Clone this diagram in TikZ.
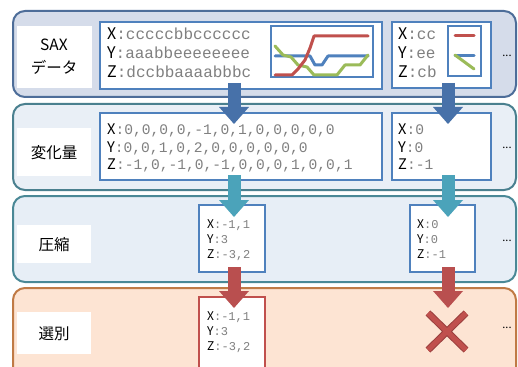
\documentclass[tikz,border=0pt]{standalone}
\usepackage{fontspec}
\setmainfont{Noto Sans CJK JP}
\setmonofont{Liberation Mono}
\usetikzlibrary{arrows.meta}
\definecolor{bandAline}{HTML}{4D6D99}
\definecolor{bandAfill}{HTML}{D5DCEA}
\definecolor{bandBline}{HTML}{4A808F}
\definecolor{bandBfill}{HTML}{E9EFF6}
\definecolor{bandCline}{HTML}{4A8896}
\definecolor{bandCfill}{HTML}{E7EEF6}
\definecolor{bandDline}{HTML}{C07A45}
\definecolor{bandDfill}{HTML}{FDE4D3}
\definecolor{boxblue}{HTML}{4F81BD}
\definecolor{boxred}{HTML}{C0504D}
\definecolor{arrA}{HTML}{4771A9}
\definecolor{arrB}{HTML}{4BA3BA}
\definecolor{arrC}{HTML}{B94F4F}
\definecolor{chred}{HTML}{C0504D}
\definecolor{chblue}{HTML}{4F81BD}
\definecolor{chgreen}{HTML}{9BBB59}
\definecolor{valgray}{HTML}{808080}
\newcommand\monoval[1]{{\ttfamily\color{valgray}#1}}
\begin{document}
\begin{tikzpicture}[x=1pt,y=-1pt,
  band/.style={rounded corners=12pt, line width=2pt},
  labelbox/.style={fill=white, draw=none, inner sep=0pt},
  databox/.style={draw=boxblue, fill=white, line width=2pt, inner sep=0pt},
  selbox/.style={draw=boxred, fill=white, line width=2pt, inner sep=0pt},
  labeltext/.style={inner sep=0pt, align=center, font=\fontsize{15.5}{23}\selectfont},
  rowA/.style={anchor=base west, inner sep=0pt, font=\fontsize{16}{18}\selectfont},
  rowB/.style={anchor=base west, inner sep=0pt, font=\fontsize{14.6}{17}\selectfont},
  rowC/.style={anchor=base west, inner sep=0pt, font=\fontsize{12}{15}\selectfont},
  dots/.style={inner sep=0pt, font=\fontsize{11}{12}\selectfont},
  chartline/.style={line width=3pt, line join=round, line cap=round},
  flowarrow/.style={line width=13pt, -{Triangle[width=30pt,length=17pt,line width=0pt]}},
]
\clip (0,0) rectangle (518,366);
\fill[white] (0,0) rectangle (518,366);

% bands
\draw[band, draw=bandAline, fill=bandAfill] (13,11) rectangle (516,97);
\draw[band, draw=bandBline, fill=bandBfill] (13,104) rectangle (516,190);
\draw[band, draw=bandCline, fill=bandCfill] (13,196) rectangle (516,282);
\draw[band, draw=bandDline, fill=bandDfill] (13,288) rectangle (516,390);

% label boxes
\node[labelbox, minimum width=75pt, minimum height=62pt] (lb1) at (54.5,57) {};
\node[labelbox, minimum width=74pt, minimum height=48pt] (lb2) at (54,152) {};
\node[labelbox, minimum width=74pt, minimum height=38pt] (lb3) at (54,244) {};
\node[labelbox, minimum width=74pt, minimum height=42pt] (lb4) at (54,333) {};
\node[labeltext] (t1) at (54,56.5) {SAX\\データ};
\node[labeltext] (t2) at (54,153) {変化量};
\node[labeltext] (t3) at (54,245) {圧縮};
\node[labeltext] (t4) at (54,334) {選別};

% data boxes
\node[databox, minimum width=282pt, minimum height=67pt] (sax1) at (241,55.5) {};
\node[databox, minimum width=99pt, minimum height=66pt] (sax2) at (441.5,55) {};
\node[databox, minimum width=282pt, minimum height=67pt] (chg1) at (241,146.5) {};
\node[databox, minimum width=99pt, minimum height=67pt] (chg2) at (441.5,146.5) {};
\node[databox, minimum width=66pt, minimum height=67pt] (cmp1) at (232,238.5) {};
\node[databox, minimum width=65pt, minimum height=67pt] (cmp2) at (442.5,238.5) {};
\node[selbox, minimum width=66pt, minimum height=80pt] (sel1) at (232,337) {};

% SAX rows
\node[rowA] (s1x) at (107,40) {X\monoval{:cccccbbcccccc}};
\node[rowA] (s1y) at (107,59) {Y\monoval{:aaabbeeeeeeee}};
\node[rowA] (s1z) at (107,78) {Z\monoval{:dccbbaaaabbbc}};
\node[rowA] (s2x) at (398,40) {X\monoval{:cc}};
\node[rowA] (s2y) at (398,59) {Y\monoval{:ee}};
\node[rowA] (s2z) at (398,78) {Z\monoval{:cb}};

% charts
\node[draw=boxblue, line width=1.5pt, fill=white, minimum width=102pt, minimum height=51pt, inner sep=0pt] (chart1) at (322,51.5) {};
\draw[chartline, chblue] (275,56) -- (310,56) -- (315,65) -- (322,65) -- (328,56) -- (368,56);
\draw[chartline, chgreen] (275,46) -- (283,55) -- (291,57) -- (298,65) -- (307,67) -- (314,75) -- (337,75) -- (345,65) -- (360,65) -- (368,55);
\draw[chartline, chred] (275,75) -- (292,75) -- (298,69) -- (305,60) -- (310,48) -- (314,36) -- (368,36);
\node[draw=boxblue, line width=1.5pt, fill=white, minimum width=33pt, minimum height=50pt, inner sep=0pt] (chart2) at (464.5,51) {};
\draw[chartline, chred] (455,36) -- (474,36);
\draw[chartline, chblue] (455,56) -- (474,56);
\draw[chartline, chgreen] (455,55) -- (474,69);

% change rows
\node[rowB] (c1x) at (107,135) {X\monoval{:0,0,0,0,-1,0,1,0,0,0,0,0}};
\node[rowB] (c1y) at (107,152) {Y\monoval{:0,0,1,0,2,0,0,0,0,0,0}};
\node[rowB] (c1z) at (107,169) {Z\monoval{:-1,0,-1,0,-1,0,0,0,1,0,0,1}};
\node[rowB] (c2x) at (398,135) {X\monoval{:0}};
\node[rowB] (c2y) at (398,152) {Y\monoval{:0}};
\node[rowB] (c2z) at (398,169) {Z\monoval{:-1}};

% compressed rows
\node[rowC] (p1x) at (207,228) {X\monoval{:-1,1}};
\node[rowC] (p1y) at (207,243) {Y\monoval{:3}};
\node[rowC] (p1z) at (207,258) {Z\monoval{:-3,2}};
\node[rowC] (p2x) at (417,228) {X\monoval{:0}};
\node[rowC] (p2y) at (417,243) {Y\monoval{:0}};
\node[rowC] (p2z) at (417,258) {Z\monoval{:-1}};

% selected rows
\node[rowC] (q1x) at (207,320) {X\monoval{:-1,1}};
\node[rowC] (q1y) at (207,335) {Y\monoval{:3}};
\node[rowC] (q1z) at (207,350) {Z\monoval{:-3,2}};

% dots
\node[dots] (d1) at (507,56) {...};
\node[dots] (d2) at (507,148) {...};
\node[dots] (d3) at (507,241) {...};
\node[dots] (d4) at (507,328) {...};

% arrows
\coordinate (a1s) at (234,83);  \coordinate (a1e) at (234,124);
\coordinate (b1s) at (448,83);  \coordinate (b1e) at (448,124);
\coordinate (a2s) at (234,175); \coordinate (a2e) at (234,217);
\coordinate (b2s) at (448,175); \coordinate (b2e) at (448,217);
\coordinate (a3s) at (234,267); \coordinate (a3e) at (234,308);
\coordinate (b3s) at (448,267); \coordinate (b3e) at (448,308);
\draw[flowarrow, arrA] (a1s) -- (a1e);
\draw[flowarrow, arrA] (b1s) -- (b1e);
\draw[flowarrow, arrB] (a2s) -- (a2e);
\draw[flowarrow, arrB] (b2s) -- (b2e);
\draw[flowarrow, arrC] (a3s) -- (a3e);
\draw[flowarrow, arrC] (b3s) -- (b3e);

% reject mark
\coordinate (xa) at (428,313); \coordinate (xb) at (466,350);
\coordinate (xc) at (466,313); \coordinate (xd) at (428,350);
\draw[line width=7pt, color=boxred!80!black] (xa) -- (xb) (xc) -- (xd);
\draw[line width=5pt, color=boxred] (xa) -- (xb) (xc) -- (xd);
\end{tikzpicture}
\end{document}
